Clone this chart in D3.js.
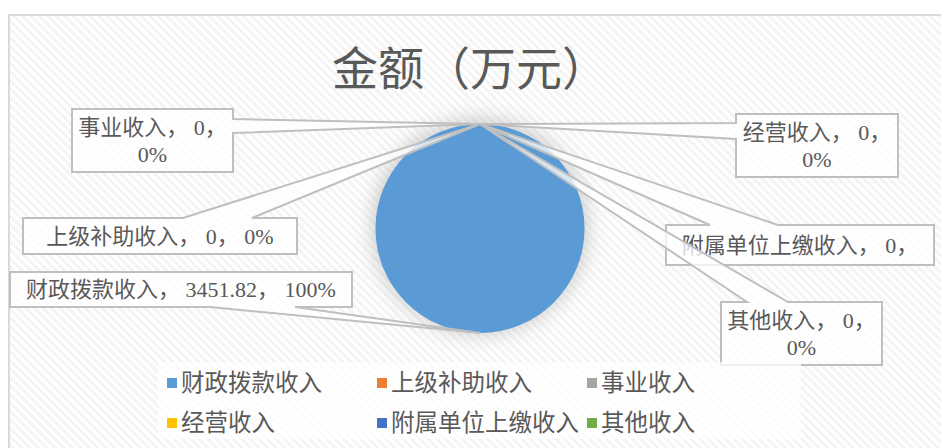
<!DOCTYPE html>
<html>
<head>
<meta charset="utf-8">
<script src="https://cdn.jsdelivr.net/npm/d3@7"></script>
<style>
  html, body { margin: 0; padding: 0; background: #fff; }
  svg { display: block; }
</style>
</head>
<body>
<svg id="chart" width="941" height="448"></svg>
<script>
// chart data
var categories = ["财政拨款收入", "上级补助收入", "事业收入", "经营收入", "附属单位上缴收入", "其他收入"];
var values = [3451.82, 0, 0, 0, 0, 0];
var percents = ["100%", "0%", "0%", "0%", "0%", "0%"];
var colors = ["#5b9bd5", "#ed7d31", "#a5a5a5", "#ffc000", "#4472c4", "#70ad47"];
var title = "金额（万元）";

// label text lines (as wrapped in the original)
var labelLines = [
  ["财政拨款收入， 3451.82， 100%"],
  ["上级补助收入， 0， 0%"],
  ["事业收入， 0，", "0%"],
  ["经营收入， 0，", "0%"],
  ["附属单位上缴收入， 0，"],
  ["其他收入， 0，", "0%"]
];

// callout boxes layout: box, side the tail leaves from, tail base coords
var callouts = [
  {x0: 10,  y0: 272, x1: 352, y1: 307, side: "bottom", b1: 210, b2: 295},
  {x0: 23,  y0: 218, x1: 297, y1: 254, side: "top",    b1: 183, b2: 252},
  {x0: 72,  y0: 109, x1: 233, y1: 172, side: "right",  b1: 119, b2: 133},
  {x0: 736, y0: 114, x1: 898, y1: 177, side: "left",   b1: 123, b2: 139},
  {x0: 666, y0: 225, x1: 934, y1: 265, side: "top",    b1: 710, b2: 778},
  {x0: 721, y0: 302, x1: 882, y1: 365, side: "top",    b1: 747, b2: 788}
];

var svg = d3.select("#chart");
var defs = svg.append("defs");

// diagonal stripe background
var pat = defs.append("pattern")
  .attr("id", "stripes")
  .attr("patternUnits", "userSpaceOnUse")
  .attr("width", 6).attr("height", 6)
  .attr("patternTransform", "rotate(45)");
pat.append("rect").attr("width", 6).attr("height", 6).attr("fill", "#ffffff");
pat.append("rect").attr("width", 6).attr("height", 3).attr("fill", "#f4f4f4");

var blur = defs.append("filter").attr("id", "glow")
  .attr("x", "-30%").attr("y", "-30%").attr("width", "160%").attr("height", "160%");
blur.append("feGaussianBlur").attr("stdDeviation", 9);

svg.append("rect")
  .attr("x", 9).attr("y", 15)
  .attr("width", 940).attr("height", 440)
  .attr("fill", "url(#stripes)")
  .attr("stroke", "#d9d9d9")
  .attr("stroke-width", 2);

// title
svg.append("text")
  .attr("x", 470).attr("y", 85)
  .attr("text-anchor", "middle")
  .style("font-family", "'Noto Sans CJK SC', sans-serif")
  .style("font-size", "46px")
  .style("fill", "#595959")
  .text(title);

// pie
var cx = 480, cy = 228.5, radius = 104.5;
var pie = d3.pie().sort(null).value(d => d);
var arcs = pie(values);
var arc = d3.arc().innerRadius(0).outerRadius(radius);

var g = svg.append("g").attr("transform", "translate(" + cx + "," + cy + ")");

g.append("circle")
  .attr("r", radius + 4)
  .attr("cy", -2)
  .attr("fill", "#9a9a9a")
  .attr("opacity", 0.45)
  .attr("filter", "url(#glow)");

g.selectAll(".slice")
  .data(arcs)
 .enter().append("path")
  .attr("class", "slice")
  .attr("d", arc)
  .attr("fill", (d, i) => colors[i]);

// anchor point on the rim for each slice
function anchor(d) {
  var a = (d.startAngle + d.endAngle) / 2;
  return [cx + radius * Math.sin(a), cy - radius * Math.cos(a)];
}

function calloutPath(c, p) {
  var pt = p[0] + "," + p[1];
  if (c.side === "top")
    return "M" + c.x0 + "," + c.y0 + "L" + c.b1 + "," + c.y0 + "L" + pt + "L" + c.b2 + "," + c.y0 +
      "L" + c.x1 + "," + c.y0 + "L" + c.x1 + "," + c.y1 + "L" + c.x0 + "," + c.y1 + "Z";
  if (c.side === "bottom")
    return "M" + c.x0 + "," + c.y0 + "L" + c.x1 + "," + c.y0 + "L" + c.x1 + "," + c.y1 +
      "L" + c.b2 + "," + c.y1 + "L" + pt + "L" + c.b1 + "," + c.y1 + "L" + c.x0 + "," + c.y1 + "Z";
  if (c.side === "right")
    return "M" + c.x0 + "," + c.y0 + "L" + c.x1 + "," + c.y0 + "L" + c.x1 + "," + c.b1 + "L" + pt +
      "L" + c.x1 + "," + c.b2 + "L" + c.x1 + "," + c.y1 + "L" + c.x0 + "," + c.y1 + "Z";
  return "M" + c.x0 + "," + c.y0 + "L" + c.x1 + "," + c.y0 + "L" + c.x1 + "," + c.y1 +
    "L" + c.x0 + "," + c.y1 + "L" + c.x0 + "," + c.b2 + "L" + pt + "L" + c.x0 + "," + c.b1 + "Z";
}

// data labels with callouts
var labels = svg.append("g").attr("id", "labels")
  .selectAll(".callout")
  .data(arcs)
 .enter().append("g")
  .attr("class", "callout");

labels.append("path")
  .attr("d", (d, i) => calloutPath(callouts[i], anchor(d)))
  .attr("fill", "#ffffff")
  .attr("fill-opacity", 0.75)
  .attr("stroke", "#bfbfbf")
  .attr("stroke-width", 2)
  .attr("stroke-linejoin", "miter");

labels.each(function(d, i) {
  var c = callouts[i], lines = labelLines[i];
  var lh = 27, midY = (c.y0 + c.y1) / 2;
  var startY = midY - (lines.length - 1) * lh / 2;
  d3.select(this).selectAll("text")
    .data(lines)
   .enter().append("text")
    .attr("x", (c.x0 + c.x1) / 2)
    .attr("y", (t, j) => startY + j * lh)
    .attr("dy", "0.36em")
    .attr("text-anchor", "middle")
    .style("font-family", "'Liberation Serif', 'Noto Sans CJK SC', serif")
    .style("font-size", "22px")
    .style("fill", "#595959")
    .text(t => t);
});

// legend
svg.append("rect")
  .attr("x", 158).attr("y", 362)
  .attr("width", 643).attr("height", 77)
  .attr("fill", "#ffffff")
  .attr("fill-opacity", 0.75);

var legend = svg.append("g").attr("id", "legend")
  .selectAll(".item")
  .data(categories)
 .enter().append("g")
  .attr("class", "item")
  .attr("transform", (d, i) => "translate(" + (167 + (i % 3) * 210) + "," + (383 + Math.floor(i / 3) * 40) + ")");

legend.append("rect")
  .attr("x", 0).attr("y", -5)
  .attr("width", 10).attr("height", 10)
  .attr("fill", (d, i) => colors[i]);

legend.append("text")
  .attr("x", 14)
  .attr("dy", "0.36em")
  .style("font-family", "'Noto Sans CJK SC', sans-serif")
  .style("font-size", "23.5px")
  .style("fill", "#595959")
  .text(d => d);
</script>
</body>
</html>
